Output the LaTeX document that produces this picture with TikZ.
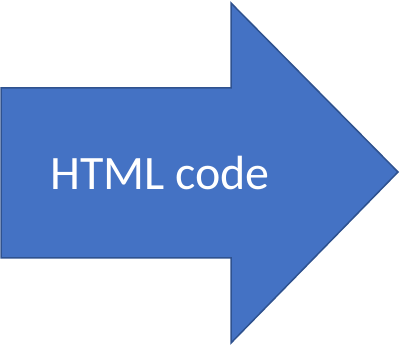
\documentclass[tikz,border=0pt]{standalone}
\usepackage{fontspec}
\setmainfont{Carlito}
\definecolor{arrowfill}{HTML}{4472C4}
\definecolor{arrowline}{HTML}{2F528F}
\tikzset{bigarrow/.style={fill=arrowfill,draw=arrowline,line width=1.5pt,line join=miter},
  label/.style={text=white,font=\fontsize{48}{54}\selectfont,anchor=base,inner sep=0pt}}
\begin{document}
\begin{tikzpicture}[x=1pt,y=-1pt]
\useasboundingbox (0,0) rectangle (400,345);
\draw[bigarrow] (1,88) -- (231,88) -- (231,3) -- (398,172) -- (231,343) -- (231,258) -- (1,258) -- cycle;
\node[label] (t) at (160,190) {HTML code};
\end{tikzpicture}
\end{document}
